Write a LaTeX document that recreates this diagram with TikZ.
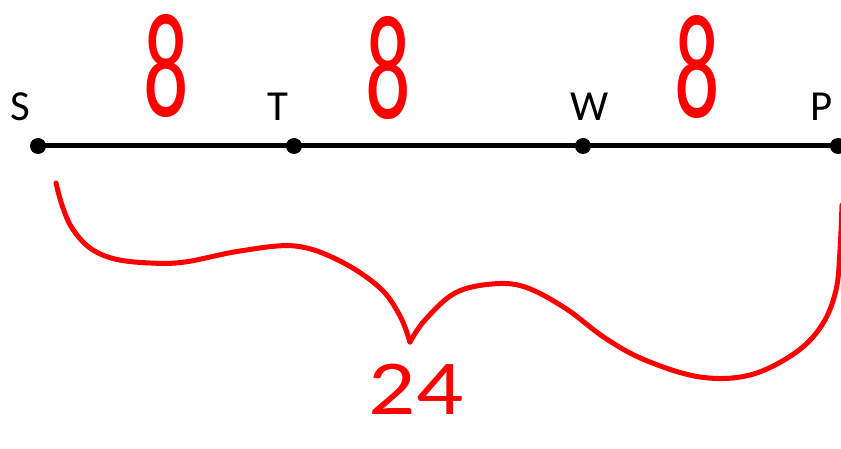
\documentclass[tikz,border=0pt]{standalone}
\usepackage{fontspec}
\setmainfont{Carlito}
\tikzset{
  pt/.style={circle,fill=black,inner sep=0pt,minimum size=16bp},
  lbl/.style={anchor=base,font=\fontsize{43}{43}\selectfont,inner sep=0pt},
  hand/.style={anchor=base,text=red,inner sep=0pt},
  seg/.style={line width=5bp,black},
  brace/.style={line width=5bp,red,line join=round,line cap=round},
}
\begin{document}
\begin{tikzpicture}[x=1bp,y=-1bp]
\useasboundingbox (0,0) rectangle (841,449);
\node[pt] (S) at (38,146) {};
\node[pt] (T) at (294,146) {};
\node[pt] (W) at (583,146) {};
\node[pt] (P) at (838,146) {};
\draw[seg] (S.center) -- (T.center) -- (W.center) -- (P.center);
\node[lbl] (lS) at (20,121) {S};
\node[lbl] (lT) at (278,121) {T};
\node[lbl] (lW) at (590,121) {W};
\node[lbl] (lP) at (822,121) {P};
\node[hand,xscale=0.6,font=\fontsize{150}{150}\selectfont] (e1) at (166,117) {8};
\node[hand,xscale=0.6,font=\fontsize{150}{150}\selectfont] (e2) at (388,119) {8};
\node[hand,xscale=0.6,font=\fontsize{150}{150}\selectfont] (e3) at (697,118) {8};
\node[hand,font=\fontsize{78}{78}\selectfont,xscale=1.2] (n24) at (416,414) {24};
\coordinate (bL) at (56,183);
\coordinate (bM) at (410,342);
\coordinate (bR) at (842,205);
\draw[brace] plot[smooth,tension=0.6] coordinates {(bL) (62,205) (72,228) (90,248) (115,259) (150,263) (185,262) (240,251) (295,246) (340,261) (380,288) (400,316) (bM)};
\draw[brace] plot[smooth,tension=0.6] coordinates {(bM) (425,320) (455,293) (492,284) (525,287) (565,308) (605,338) (645,360) (700,377) (750,375) (795,353) (822,325) (836,290) (840,250) (bR)};
\end{tikzpicture}
\end{document}
